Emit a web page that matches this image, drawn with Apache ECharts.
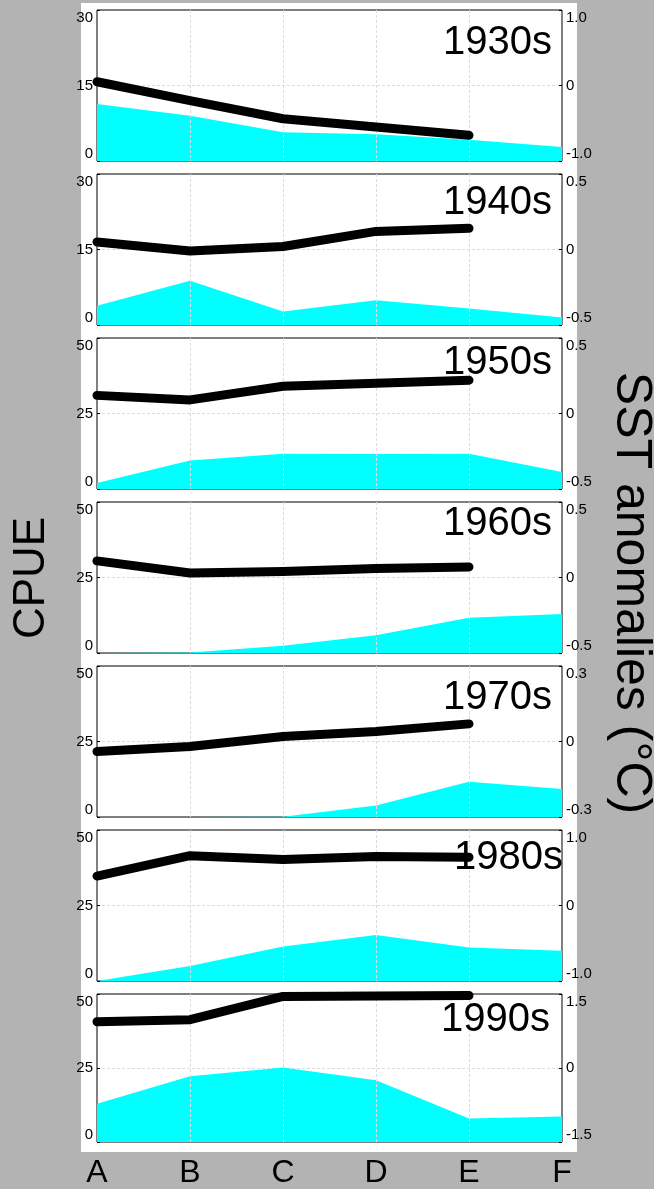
<!DOCTYPE html>
<html>
<head>
<meta charset="utf-8">
<script src="https://cdn.jsdelivr.net/npm/echarts@6/dist/echarts.min.js"></script>
<style>
html,body{margin:0;padding:0;background:#b3b3b3;}
#chart{width:654px;height:1189px;}
</style>
</head>
<body>
<div id="chart"></div>
<script>
// ---- data ----
const categories = ['A', 'B', 'C', 'D', 'E', 'F'];
const decades = ['1930s', '1940s', '1950s', '1960s', '1970s', '1980s', '1990s'];
// CPUE (cyan area), one value per category
const cpue1930 = [11.3, 9.0, 5.7, 5.3, 4.2, 2.8];
const cpue1940 = [3.8, 8.8, 2.7, 4.9, 3.3, 1.5];
const cpue1950 = [2.0, 9.4, 11.7, 11.6, 11.7, 5.6];
const cpue1960 = [0.0, 0.2, 2.4, 5.9, 11.7, 12.9];
const cpue1970 = [0.0, 0.0, 0.1, 3.8, 11.7, 9.3];
const cpue1980 = [0.0, 5.0, 11.4, 15.2, 11.1, 10.0];
const cpue1990 = [12.9, 22.2, 25.2, 20.9, 7.9, 8.6];
// SST anomalies (black line), categories A-E
const sst1930 = [0.05, -0.20, -0.44, -0.55, -0.66];
const sst1940 = [0.05, -0.01, 0.02, 0.12, 0.14];
const sst1950 = [0.12, 0.09, 0.18, 0.20, 0.22];
const sst1960 = [0.11, 0.03, 0.04, 0.06, 0.07];
const sst1970 = [-0.04, -0.02, 0.02, 0.04, 0.07];
const sst1980 = [0.39, 0.66, 0.61, 0.65, 0.64];
const sst1990 = [0.94, 0.98, 1.45, 1.46, 1.47];
// axis tick label tops
const cpueTickMax = [30, 30, 50, 50, 50, 50, 50];
const sstTickMax = [1.0, 0.5, 0.5, 0.5, 0.3, 1.0, 1.5];

const cpueSeries = [cpue1930, cpue1940, cpue1950, cpue1960, cpue1970, cpue1980, cpue1990];
const sstSeries = [sst1930, sst1940, sst1950, sst1960, sst1970, sst1980, sst1990];

// ---- layout ----
const FONT = "'Liberation Sans', Arial, sans-serif";
const plotLeft = 97, plotRight = 562, panelH = 151, panelStep = 164, firstTop = 10;
const titleTop = [23, 183, 343, 504, 678, 838, 1000];
const titleRightX = [552, 552, 552, 552, 552, 563, 550];
const gridLine = { color: '#dcdcdc', type: [3, 2], width: 1 };

const grids = [], xAxes = [], yAxes = [], series = [], titles = [];
decades.forEach((d, i) => {
  const top = firstTop + i * panelStep;
  const last = i === decades.length - 1;
  grids.push({
    left: plotLeft, right: 654 - plotRight, top: top, height: panelH,
    show: true, backgroundColor: '#ffffff', borderColor: '#000', borderWidth: 1
  });
  xAxes.push({
    type: 'category', gridIndex: i, data: categories, boundaryGap: false, z: 3,
    axisLine: { show: false }, axisTick: { show: false },
    axisLabel: { show: last, fontSize: 32, color: '#000', fontFamily: FONT, margin: 15 },
    splitLine: { show: true, interval: (idx) => idx > 0 && idx < categories.length - 1,
      lineStyle: gridLine }
  });
  const cm = cpueTickMax[i];
  yAxes.push({
    type: 'value', gridIndex: i, position: 'left', min: 0, max: cm, interval: cm / 2,
    axisLine: { show: false },
    axisTick: { show: true, inside: true, length: 3, lineStyle: { color: '#000' } },
    axisLabel: { fontSize: 15, color: '#000', fontFamily: FONT, margin: 4,
      verticalAlignMinLabel: 'bottom', verticalAlignMaxLabel: 'top' },
    splitLine: { show: true, showMinLine: false, showMaxLine: false, lineStyle: gridLine }
  });
  const sm = sstTickMax[i];
  yAxes.push({
    type: 'value', gridIndex: i, position: 'right', min: -sm, max: sm, interval: sm,
    axisLine: { show: false },
    axisTick: { show: true, inside: true, length: 3, lineStyle: { color: '#000' } },
    axisLabel: { fontSize: 15, color: '#000', fontFamily: FONT, margin: 4,
      verticalAlignMinLabel: 'bottom', verticalAlignMaxLabel: 'top',
      formatter: (v) => Math.abs(v) < 1e-9 ? '0' : v.toFixed(1) },
    splitLine: { show: false }
  });
  series.push({
    type: 'line', name: 'CPUE ' + d, xAxisIndex: i, yAxisIndex: 2 * i,
    data: cpueSeries[i], symbol: 'none', z: 2,
    lineStyle: { width: 0, color: '#00ffff' },
    areaStyle: { color: '#00ffff', opacity: 1, origin: 'start' }
  });
  series.push({
    type: 'line', name: 'SST ' + d, xAxisIndex: i, yAxisIndex: 2 * i + 1,
    data: sstSeries[i], symbol: 'none', z: 5, clip: false,
    lineStyle: { width: 9, color: '#000', cap: 'round', join: 'round' }
  });
  titles.push({
    text: d, right: 654 - titleRightX[i], top: titleTop[i], padding: 0,
    textStyle: { fontSize: 40, fontWeight: 'normal', color: '#000', fontFamily: FONT }
  });
});

const chart = echarts.init(document.getElementById('chart'), null, { renderer: 'canvas' });
chart.setOption({
  animation: false,
  backgroundColor: '#b3b3b3',
  title: titles,
  grid: grids,
  xAxis: xAxes,
  yAxis: yAxes,
  series: series,
  graphic: {
    elements: [
      { type: 'rect', z: -100, silent: true, shape: { x: 81, y: 3, width: 496, height: 1149 },
        style: { fill: '#ffffff' } },
      { type: 'text', x: 32, y: 578, rotation: Math.PI / 2, silent: true,
        style: { text: 'CPUE', fontSize: 44, fontFamily: FONT, fill: '#000',
          align: 'center', verticalAlign: 'middle' } },
      { type: 'text', x: 631, y: 593, rotation: -Math.PI / 2, silent: true,
        style: { text: 'SST anomalies (°C)', fontSize: 50, fontFamily: FONT, fill: '#000',
          align: 'center', verticalAlign: 'middle' } }
    ]
  }
});
</script>
</body>
</html>
